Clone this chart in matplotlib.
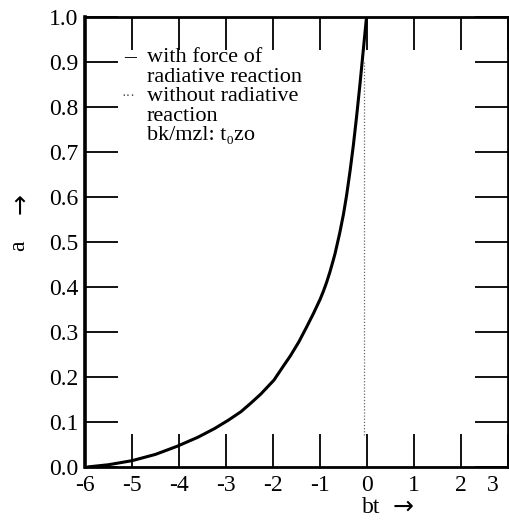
import numpy as np
import matplotlib
matplotlib.use('Agg')
import matplotlib.pyplot as plt
import matplotlib.transforms as mtransforms

# curve with force of radiative reaction
bt = [-5.95, -5.5, -5.0, -4.5, -4.04, -3.6, -3.25, -2.95, -2.68, -2.47, -2.26, -1.98,
      -1.8, -1.63, -1.45, -1.28, -1.14, -1.0, -0.93, -0.86, -0.79, -0.73, -0.68, -0.58,
      -0.50, -0.435, -0.36, -0.29, -0.22, -0.15, -0.08, -0.01]
a = [0.0, 0.005, 0.014, 0.028, 0.046, 0.066, 0.085, 0.104, 0.123, 0.142, 0.162, 0.193,
     0.221, 0.247, 0.278, 0.312, 0.341, 0.372, 0.390, 0.410, 0.433, 0.455, 0.474, 0.520,
     0.562, 0.603, 0.658, 0.715, 0.780, 0.850, 0.925, 1.0]

# without radiative reaction (vertical dotted)
bt_free = [-0.06, -0.06]
a_free = [0.07, 0.90]

xticks = [-6, -5, -4, -3, -2, -1, 0, 1, 2, 3]
yticks = [0.0, 0.1, 0.2, 0.3, 0.4, 0.5, 0.6, 0.7, 0.8, 0.9, 1.0]

legend_lines = ['with force of', 'radiative reaction', 'without radiative',
                'reaction', 'bk/mzl: t\u2080zo']

plt.rcParams['font.family'] = ['Liberation Serif', 'DejaVu Serif']

fig = plt.figure(figsize=(5.09, 5.22), dpi=100)
ax = fig.add_axes([0.167, 0.1054, 0.831, 0.862])

ax.plot(bt, a, color='black', lw=2.2, solid_capstyle='butt', solid_joinstyle='round')
ax.plot(bt_free, a_free, color='#666666', lw=0.9, linestyle=(0, (1, 1.5)))

ax.set_xlim(-6, 3)
ax.set_ylim(0, 1.0)

ax.set_xticks(xticks)
ax.set_xticklabels([str(t) for t in xticks], fontsize=17)
ax.set_yticks(yticks)
ax.set_yticklabels(['%.1f' % t for t in yticks], fontsize=17)

ax.tick_params(direction='in', length=24, width=1.3, top=True, right=True)
ax.tick_params(axis='x', pad=6)
ax.tick_params(axis='y', pad=5)

# last x label sits inside the clipped edge
lab = ax.get_xticklabels()[-1]
lab.set_transform(lab.get_transform() + mtransforms.ScaledTranslation(-15 / 100, 0, fig.dpi_scale_trans))

for s in ax.spines.values():
    s.set_linewidth(2.0)
ax.spines['left'].set_linewidth(2.6)

# legend text
y0 = 0.91
dy = 0.0435
for i, t in enumerate(legend_lines):
    ax.text(-4.68, y0 - i * dy, t, fontsize=16, va='center', ha='left')
ax.text(-5.05, y0, '\u2013', fontsize=17, va='center', ha='center')
ax.text(-5.07, y0 - 2 * dy, '\u00b7\u00b7\u00b7', fontsize=10, va='center', ha='center', color='#444444')

# axis labels with arrows
fig.text(0.037, 0.53, 'a', rotation=90, fontsize=17, ha='center', va='center')
fig.text(0.040, 0.611, '\u2192', rotation=90, fontsize=18, ha='center', va='center',
         family='DejaVu Sans')
fig.text(0.730, 0.027, 'bt', fontsize=17, ha='center', va='center')
fig.text(0.791, 0.029, '\u2192', fontsize=18, ha='center', va='center', family='DejaVu Sans')

fig.savefig('out.png', dpi=100)
